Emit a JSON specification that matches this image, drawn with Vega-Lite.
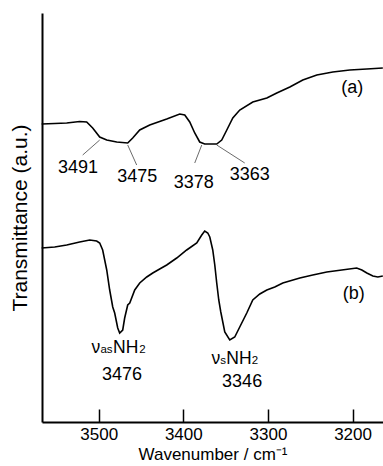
{
  "$schema": "https://vega.github.io/schema/vega-lite/v6.json",
  "autosize": {"type": "none"},
  "padding": {"left": 42, "top": 13, "right": 0, "bottom": 44},
  "width": 341,
  "height": 409,
  "config": {
    "font": "Liberation Sans",
    "view": {"stroke": null},
    "axis": {"grid": false, "domainColor": "#000", "domainWidth": 2, "tickColor": "#000", "labelColor": "#000", "titleColor": "#000", "titleFontWeight": "normal"}
  },
  "datasets": {
    "spectra": [
      {"wn": 3567.4, "t": 298, "s": "a"}, {"wn": 3552.0, "t": 298.5, "s": "a"}, {"wn": 3537.8, "t": 299, "s": "a"},
      {"wn": 3522.5, "t": 300.5, "s": "a"}, {"wn": 3514.2, "t": 300, "s": "a"}, {"wn": 3507.1, "t": 294, "s": "a"},
      {"wn": 3498.8, "t": 285, "s": "a"}, {"wn": 3490.5, "t": 282, "s": "a"}, {"wn": 3478.7, "t": 280, "s": "a"},
      {"wn": 3465.7, "t": 279, "s": "a"}, {"wn": 3459.8, "t": 284, "s": "a"}, {"wn": 3451.5, "t": 292, "s": "a"},
      {"wn": 3439.7, "t": 297, "s": "a"}, {"wn": 3419.6, "t": 303, "s": "a"}, {"wn": 3404.2, "t": 308, "s": "a"},
      {"wn": 3398.3, "t": 307, "s": "a"}, {"wn": 3392.4, "t": 300, "s": "a"}, {"wn": 3386.5, "t": 289, "s": "a"},
      {"wn": 3380.6, "t": 280, "s": "a"}, {"wn": 3374.7, "t": 278, "s": "a"}, {"wn": 3360.5, "t": 278, "s": "a"},
      {"wn": 3354.6, "t": 282, "s": "a"}, {"wn": 3348.6, "t": 292, "s": "a"}, {"wn": 3341.5, "t": 304, "s": "a"},
      {"wn": 3333.3, "t": 312, "s": "a"}, {"wn": 3317.9, "t": 320, "s": "a"}, {"wn": 3301.3, "t": 324, "s": "a"},
      {"wn": 3289.5, "t": 329, "s": "a"}, {"wn": 3274.1, "t": 335, "s": "a"}, {"wn": 3258.8, "t": 342, "s": "a"},
      {"wn": 3242.2, "t": 347, "s": "a"}, {"wn": 3223.3, "t": 350, "s": "a"}, {"wn": 3203.2, "t": 352, "s": "a"},
      {"wn": 3183.1, "t": 353, "s": "a"}, {"wn": 3164.2, "t": 354, "s": "a"},
      {"wn": 3567.4, "t": 174, "s": "b"}, {"wn": 3552.0, "t": 175, "s": "b"}, {"wn": 3537.8, "t": 177, "s": "b"},
      {"wn": 3522.5, "t": 180, "s": "b"}, {"wn": 3510.6, "t": 182, "s": "b"}, {"wn": 3502.4, "t": 181, "s": "b"},
      {"wn": 3498.8, "t": 179, "s": "b"}, {"wn": 3495.3, "t": 172, "s": "b"}, {"wn": 3490.5, "t": 152, "s": "b"},
      {"wn": 3487.0, "t": 132, "s": "b"}, {"wn": 3483.4, "t": 115, "s": "b"}, {"wn": 3481.1, "t": 109, "s": "b"},
      {"wn": 3477.5, "t": 94, "s": "b"}, {"wn": 3475.2, "t": 89, "s": "b"}, {"wn": 3471.6, "t": 92, "s": "b"},
      {"wn": 3469.3, "t": 104, "s": "b"}, {"wn": 3465.7, "t": 117, "s": "b"}, {"wn": 3463.3, "t": 119, "s": "b"},
      {"wn": 3457.4, "t": 132, "s": "b"}, {"wn": 3451.5, "t": 139, "s": "b"}, {"wn": 3443.2, "t": 145, "s": "b"},
      {"wn": 3436.1, "t": 149, "s": "b"}, {"wn": 3427.9, "t": 153, "s": "b"}, {"wn": 3419.6, "t": 157, "s": "b"},
      {"wn": 3407.8, "t": 164, "s": "b"}, {"wn": 3396.0, "t": 172, "s": "b"}, {"wn": 3384.1, "t": 179, "s": "b"},
      {"wn": 3378.2, "t": 187, "s": "b"}, {"wn": 3374.7, "t": 191, "s": "b"}, {"wn": 3371.1, "t": 189, "s": "b"},
      {"wn": 3368.7, "t": 185, "s": "b"}, {"wn": 3365.2, "t": 172, "s": "b"}, {"wn": 3362.8, "t": 157, "s": "b"},
      {"wn": 3360.5, "t": 139, "s": "b"}, {"wn": 3358.1, "t": 122, "s": "b"}, {"wn": 3355.7, "t": 110, "s": "b"},
      {"wn": 3351.0, "t": 90, "s": "b"}, {"wn": 3345.1, "t": 82, "s": "b"}, {"wn": 3339.2, "t": 85, "s": "b"},
      {"wn": 3333.3, "t": 95, "s": "b"}, {"wn": 3325.0, "t": 109, "s": "b"}, {"wn": 3317.9, "t": 122, "s": "b"},
      {"wn": 3309.6, "t": 128, "s": "b"}, {"wn": 3301.3, "t": 132, "s": "b"}, {"wn": 3291.9, "t": 135, "s": "b"},
      {"wn": 3282.4, "t": 139, "s": "b"}, {"wn": 3262.3, "t": 144, "s": "b"}, {"wn": 3247.0, "t": 147, "s": "b"},
      {"wn": 3230.4, "t": 150, "s": "b"}, {"wn": 3212.7, "t": 152, "s": "b"}, {"wn": 3195.1, "t": 154, "s": "b"},
      {"wn": 3189.0, "t": 152, "s": "b"}, {"wn": 3183.1, "t": 149, "s": "b"}, {"wn": 3176.0, "t": 146, "s": "b"},
      {"wn": 3170.1, "t": 145, "s": "b"}, {"wn": 3164.2, "t": 146, "s": "b"}
    ],
    "leaders": [
      {"x1": 3498.8, "y1": 282, "x2": 3518.9, "y2": 267},
      {"x1": 3465.7, "y1": 277, "x2": 3455.1, "y2": 257},
      {"x1": 3378.2, "y1": 277, "x2": 3386.5, "y2": 259},
      {"x1": 3360.5, "y1": 277, "x2": 3327.4, "y2": 259}
    ],
    "labels": [
      {"wn": 3524.5, "t": 253.7, "label": "3491"},
      {"wn": 3454.5, "t": 245.3, "label": "3475"},
      {"wn": 3387.7, "t": 239.5, "label": "3378"},
      {"wn": 3321.4, "t": 247, "label": "3363"},
      {"wn": 3200.2, "t": 333.7, "label": "(a)"},
      {"wn": 3198.5, "t": 128, "label": "(b)"},
      {"wn": 3472.4, "t": 47, "label": "3476"},
      {"wn": 3330.5, "t": 40.3, "label": "3346"}
    ],
    "bigParts": [
      {"wn": 3508.6, "t": 68.7, "label": "ν"},
      {"wn": 3483.1, "t": 68.7, "label": "NH"},
      {"wn": 3366.7, "t": 58.3, "label": "ν"},
      {"wn": 3349.2, "t": 58.3, "label": "NH"}
    ],
    "smallParts": [
      {"wn": 3497.9, "t": 68.7, "label": "as"},
      {"wn": 3452.1, "t": 68.7, "label": "2"},
      {"wn": 3356.3, "t": 58.3, "label": "s"},
      {"wn": 3319.1, "t": 58.3, "label": "2"}
    ]
  },
  "layer": [
    {
      "data": {"name": "spectra"},
      "mark": {"type": "line", "color": "#000", "strokeWidth": 1.6},
      "encoding": {
        "x": {"field": "wn", "type": "quantitative",
              "scale": {"domain": [3567, 3164], "nice": false, "zero": false},
              "axis": {"values": [3500, 3400, 3300, 3200], "format": "d", "tickSize": -13, "tickWidth": 1.5, "labelFontSize": 17, "labelPadding": 17,
                       "title": "Wavenumber / cm⁻¹", "titleFontSize": 17, "titleY": 37, "titleBaseline": "alphabetic"}},
        "y": {"field": "t", "type": "quantitative",
              "scale": {"domain": [0, 409], "nice": false, "zero": false},
              "axis": {"ticks": false, "labels": false, "title": "Transmittance (a.u.)", "titleFontSize": 21, "titlePadding": 12}},
        "detail": {"field": "s"}
      }
    },
    {
      "data": {"name": "leaders"},
      "mark": {"type": "rule", "color": "#444", "strokeWidth": 0.8},
      "encoding": {
        "x": {"field": "x1", "type": "quantitative"},
        "y": {"field": "y1", "type": "quantitative"},
        "x2": {"field": "x2"},
        "y2": {"field": "y2"}
      }
    },
    {
      "data": {"name": "labels"},
      "mark": {"type": "text", "fontSize": 18, "color": "#000", "align": "center", "baseline": "middle"},
      "encoding": {
        "x": {"field": "wn", "type": "quantitative"},
        "y": {"field": "t", "type": "quantitative"},
        "text": {"field": "label"}
      }
    },
    {
      "data": {"name": "bigParts"},
      "mark": {"type": "text", "fontSize": 17.5, "color": "#000", "align": "left", "baseline": "alphabetic"},
      "encoding": {
        "x": {"field": "wn", "type": "quantitative"},
        "y": {"field": "t", "type": "quantitative"},
        "text": {"field": "label"}
      }
    },
    {
      "data": {"name": "smallParts"},
      "mark": {"type": "text", "fontSize": 11.5, "color": "#000", "align": "left", "baseline": "alphabetic"},
      "encoding": {
        "x": {"field": "wn", "type": "quantitative"},
        "y": {"field": "t", "type": "quantitative"},
        "text": {"field": "label"}
      }
    }
  ]
}
